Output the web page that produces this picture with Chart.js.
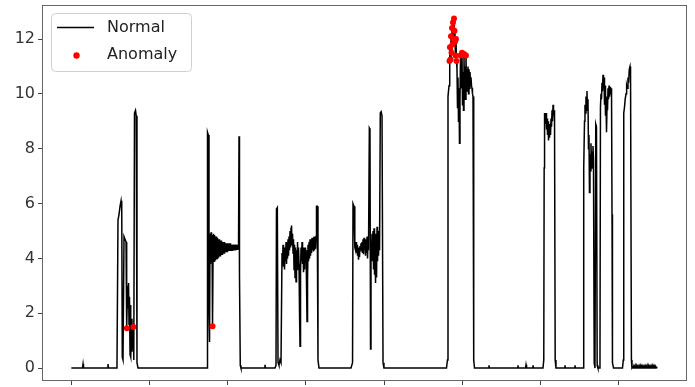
<!DOCTYPE html>
<html>
<head>
<meta charset="utf-8">
<script src="https://cdn.jsdelivr.net/npm/chart.js@4.4.0/dist/chart.umd.min.js"></script>
<style>
    body { margin: 0; background: #fff; }
    #chartArea { display: block; }
</style>
</head>
<body>
<canvas id="chartArea" width="695" height="387"></canvas>
<script>
// tick values
var xTickValues = [0, 1000, 2000, 3000, 4000, 5000, 6000, 7000];
var yTickValues = [0, 2, 4, 6, 8, 10, 12];
var seriesLabels = ['Normal', 'Anomaly'];

// time step of the densely sampled stretches
var sampleStep = 6.4;

// flat baseline with small blips
var baselinePoints = [[0, 0], [143, 0], [150, 0.15], [156, 0], [463, 0], [469, 0.15], [476, 0],
    [2471, 0], [2477, 0.12], [2484, 0], [5336, 0], [5342, 0.1], [5349, 0], [5707, 0], [5713, 0.1], [5720, 0],
    [5810, 0], [5816, 0.12], [5823, 0], [5899, 0], [5905, 0.1], [5912, 0], [6308, 0], [6314, 0.1], [6321, 0],
    [6436, 0], [6442, 0.1], [6449, 0]];

var burstA = [[584, 0], [597, 5.4], [610, 5.6], [623, 5.9], [636, 6.1], [645, 5.8], [652, 0.4], [661, 0.3],
    [674, 4.8], [687, 4.7], [700, 4.6], [706, 3.2], [710, 1.45], [719, 3.0], [725, 2.2], [732, 3.1], [738, 1.6],
    [744, 2.6], [751, 0.5], [757, 2.3], [763, 0.4], [770, 1.8], [776, 0.6], [783, 1.2], [793, 1.5], [799, 0.3],
    [808, 9.3], [821, 9.4], [830, 9.2], [840, 0.2], [853, 0]];

var burstB = [[1710, 0], [1736, 0], [1742, 8.6], [1752, 8.5], [1761, 2.0], [1768, 0.95],
    [2145, 8.45], [2151, 3.4], [2161, 0.1], [2170, 0]];
var bandBStart = 1774;
var bandB = [4.9, 3.8, 4.95, 3.85, 4.85, 1.53, 3.9, 4.9, 3.9, 4.85, 3.95, 4.8, 4.0, 4.8, 4.0, 4.75, 4.05, 4.7,
    4.1, 4.7, 4.1, 4.65, 4.15, 4.65, 4.15, 4.6, 4.2, 4.6, 4.2, 4.6, 4.25, 4.55, 4.25, 4.55, 4.25, 4.55, 4.3, 4.55,
    4.3, 4.55, 4.3, 4.55, 4.3, 4.5, 4.3, 4.5, 4.32, 4.5, 4.32, 4.5, 4.32, 4.5, 4.33, 4.5, 4.33, 4.5, 4.35, 4.5];

var burstC = [[2605, 0], [2618, 0.1], [2624, 5.8], [2635, 5.85], [2644, 0.2], [2656, 0.1], [2669, 0.3], [2682, 0.2],
    [3130, 4.8], [3136, 5.9], [3145, 5.9], [3155, 0.3], [3168, 0]];
var bandCStart = 2695;
var bandC = [4.2, 3.8, 4.5, 3.7, 4.4, 3.6, 4.3, 3.9, 4.6, 3.8, 4.4, 4.0, 4.7, 4.1, 4.8, 4.3, 5.0, 4.4, 5.1, 5.2,
    4.5, 4.9, 4.2, 4.7, 3.6, 4.5, 3.3, 4.4, 3.15, 4.3, 3.6, 4.6, 3.9, 4.4, 3.8, 2.0, 0.8, 3.5, 4.4, 3.9, 4.6, 3.8,
    4.4, 3.5, 4.2, 3.6, 4.4, 3.9, 4.3, 3.0, 1.7, 3.2, 4.5, 3.9, 4.6, 4.0, 4.7, 4.1, 4.6, 4.2, 4.75, 4.3, 4.7, 4.25,
    4.8, 4.3, 4.75, 4.35];

var burstD = [[3577, 0], [3597, 0.2], [3603, 6.0], [3616, 5.9], [3626, 4.4], [3812, 8.75], [3820, 8.7],
    [3827, 0.7], [3833, 4.0], [3952, 9.3], [3963, 9.35], [3974, 9.2], [3987, 0.2], [3999, 0]];
var bandD1Start = 3635;
var bandD1 = [4.3, 4.6, 4.2, 4.5, 4.1, 4.4, 3.95, 4.3, 4.05, 4.45, 4.3, 4.55, 4.25, 4.6, 4.2, 4.7, 4.15, 4.75,
    4.3, 4.6, 4.1, 4.7, 4.2, 4.8, 4.0, 4.6, 4.3];
var bandD2Start = 3840;
var bandD2 = [4.3, 4.9, 3.9, 5.0, 3.6, 5.1, 3.4, 4.9, 3.1, 4.8, 3.3, 5.15, 3.9, 5.0, 4.1, 4.8, 4.3];

var burstE = [[4799, 0], [4811, 0.3], [4818, 9.9], [4831, 10.3], [5147, 0.3], [5157, 0]];
var bandEStart = 4837;
var bandE = [11.2, 11.7, 11.25, 12.1, 11.5, 12.4, 11.8, 12.6, 12.0, 12.75, 12.3, 11.9, 11.4, 12.0, 11.2, 10.9,
    9.5, 10.6, 9.0, 10.2, 8.2, 9.8, 11.4, 10.2, 11.0, 11.5, 9.6, 10.8, 9.4, 11.45, 10.0, 11.0, 9.8, 11.4, 10.3,
    10.9, 10.1, 11.0, 10.0, 10.9, 10.2, 10.8, 10.4, 10.6, 10.3, 10.2, 10.0, 9.9];

var burstF = [[6033, 0], [6043, 0.3], [6048, 7.3], [6053, 9.3], [6189, 0.3], [6199, 0],
    [6545, 0], [6551, 0.3], [6557, 7.3], [6564, 9.0], [6688, 0.2], [6698, 0], [6708, 8.9], [6717, 8.8],
    [6726, 0.1], [6736, 0], [6756, 0], [6762, 0.3], [6768, 9.5], [6910, 9.9], [6916, 5.6], [6919, 4.0],
    [6924, 0.2], [6935, 0], [7050, 0], [7060, 0.3], [7066, 9.3], [7075, 9.5], [7084, 9.8], [7095, 10.0],
    [7103, 10.3], [7111, 10.2], [7120, 10.6], [7128, 10.4], [7137, 10.9], [7146, 11.0], [7153, 10.7],
    [7164, 0.3], [7171, 0]];
var bandF1Start = 6059;
var bandF1 = [9.2, 8.9, 9.3, 8.7, 9.1, 8.5, 9.0, 8.3, 8.8, 8.4, 8.9, 8.5, 9.1, 8.8, 9.4, 9.0, 9.6, 9.2, 9.4, 9.1];
var bandF2Start = 6570;
var bandF2 = [9.6, 9.3, 9.9, 9.5, 10.1, 9.4, 9.8, 8.0, 8.5, 6.4, 7.8, 7.2, 8.2, 7.3, 7.9, 7.5, 8.1, 7.6];
var bandF3Start = 6775;
var bandF3 = [10.0, 9.8, 10.4, 10.1, 10.7, 10.2, 10.6, 9.6, 10.3, 9.2, 9.9, 8.6, 9.5, 9.4, 10.2, 9.8, 10.3,
    9.9, 10.25, 10.0, 10.2];
var tailStart = 7184;
var tailStep = 6.4;
var tail = [0.04, 0, 0.05, 0.01, 0.04, 0, 0.06, 0.01, 0.05, 0, 0.05, 0.02, 0.04, 0, 0.05, 0.01, 0.05, 0, 0.05,
    0.01, 0.04, 0, 0.05, 0.02, 0.04, 0, 0.05, 0.01, 0.04, 0, 0.06, 0.01, 0.05, 0, 0.05, 0.02, 0.04, 0, 0.05,
    0.01, 0.05, 0, 0.05, 0.01, 0.04, 0, 0.05, 0.02, 0.03];

var anomalyPoints = [[710, 1.45], [793, 1.5], [1806, 1.53],
    [4837, 11.2], [4843, 11.7], [4850, 11.25], [4856, 12.1], [4863, 11.5], [4869, 12.4], [4875, 11.8],
    [4882, 12.6], [4888, 12.0], [4895, 12.75], [4901, 12.3], [4907, 11.9], [4914, 11.4], [4920, 12.0],
    [4927, 11.2], [4978, 11.4], [4997, 11.5], [5023, 11.45], [5048, 11.4]];

function sampled(start, step, values) {
    return values.map(function (v, i) { return [start + i * step, v]; });
}

function buildNormal() {
    var pts = [].concat(baselinePoints, burstA, burstB, burstC, burstD, burstE, burstF,
        sampled(bandBStart, sampleStep, bandB),
        sampled(bandCStart, sampleStep, bandC),
        sampled(bandD1Start, sampleStep, bandD1),
        sampled(bandD2Start, sampleStep, bandD2),
        sampled(bandEStart, sampleStep, bandE),
        sampled(bandF1Start, sampleStep, bandF1),
        sampled(bandF2Start, sampleStep, bandF2),
        sampled(bandF3Start, sampleStep, bandF3),
        sampled(tailStart, tailStep, tail));
    pts.sort(function (a, b) { return a[0] - b[0]; });
    return pts.map(function (p) { return { x: p[0], y: p[1] }; });
}

var fontFamily = "'DejaVu Sans', sans-serif";

// full box around the plot, like matplotlib spines
var framePlugin = {
    id: 'frame',
    afterDatasetsDraw: function (chart) {
        var a = chart.chartArea, c = chart.ctx;
        c.save();
        c.strokeStyle = '#666';
        c.lineWidth = 1;
        c.strokeRect(Math.round(a.left) + 0.5, Math.round(a.top) + 0.5,
            Math.round(a.right - a.left) - 1, Math.round(a.bottom - a.top) - 1);
        c.restore();
    }
};

// legend box in the upper left corner
var legendPlugin = {
    id: 'boxLegend',
    afterDraw: function (chart) {
        var c = chart.ctx;
        var x0 = 51.5, y0 = 13.5, w = 140, h = 58, r = 4;
        c.save();
        c.beginPath();
        c.moveTo(x0 + r, y0);
        c.arcTo(x0 + w, y0, x0 + w, y0 + h, r);
        c.arcTo(x0 + w, y0 + h, x0, y0 + h, r);
        c.arcTo(x0, y0 + h, x0, y0, r);
        c.arcTo(x0, y0, x0 + w, y0, r);
        c.closePath();
        c.fillStyle = 'rgba(255,255,255,0.8)';
        c.fill();
        c.strokeStyle = '#d0d0d0';
        c.lineWidth = 1;
        c.stroke();

        c.strokeStyle = '#000';
        c.lineWidth = 1.5;
        c.beginPath();
        c.moveTo(57, 27.5);
        c.lineTo(94, 27.5);
        c.stroke();

        c.fillStyle = 'red';
        c.beginPath();
        c.arc(76.5, 55.5, 3.2, 0, Math.PI * 2);
        c.fill();

        c.fillStyle = '#222';
        c.font = '16px ' + fontFamily;
        c.textBaseline = 'middle';
        c.fillText(seriesLabels[0], 107, 28);
        c.fillText(seriesLabels[1], 107, 55);
        c.restore();
    }
};

var ctx = document.getElementById('chartArea').getContext('2d');
var config = {
    type: 'line',
    data: {
        datasets: [{
            label: seriesLabels[1],
            type: 'scatter',
            data: anomalyPoints.map(function (p) { return { x: p[0], y: p[1] }; }),
            backgroundColor: 'red',
            borderWidth: 0,
            pointRadius: 3,
            order: 0
        }, {
            label: seriesLabels[0],
            data: buildNormal(),
            borderColor: '#000',
            borderWidth: 1.5,
            pointRadius: 0,
            tension: 0,
            fill: false,
            order: 1
        }]
    },
    options: {
        responsive: false,
        animation: false,
        events: [],
        layout: { padding: { top: 5, right: 8, left: 0, bottom: 0 } },
        plugins: {
            legend: { display: false },
            tooltip: { enabled: false }
        },
        scales: {
            x: {
                type: 'linear',
                min: -375,
                max: 7875,
                afterBuildTicks: function (s) { s.ticks = xTickValues.map(function (v) { return { value: v }; }); },
                afterFit: function (s) { s.height = 6; s.paddingLeft = 0; s.paddingRight = 0; },
                grid: { drawOnChartArea: false, drawTicks: true, tickLength: 4, color: '#444' },
                border: { display: false },
                ticks: { display: false }
            },
            y: {
                type: 'linear',
                min: -0.47,
                max: 13.24,
                afterBuildTicks: function (s) { s.ticks = yTickValues.map(function (v) { return { value: v }; }); },
                afterFit: function (s) { s.width = 42; s.paddingTop = 0; s.paddingBottom = 0; },
                grid: { drawOnChartArea: false, drawTicks: true, tickLength: 4, color: '#444' },
                border: { display: false },
                ticks: {
                    color: '#333',
                    padding: 3,
                    font: { family: fontFamily, size: 16 },
                    callback: function (v) { return v; }
                }
            }
        }
    },
    plugins: [framePlugin, legendPlugin]
};
var myNewChart = new Chart(ctx, config);
</script>
</body>
</html>
